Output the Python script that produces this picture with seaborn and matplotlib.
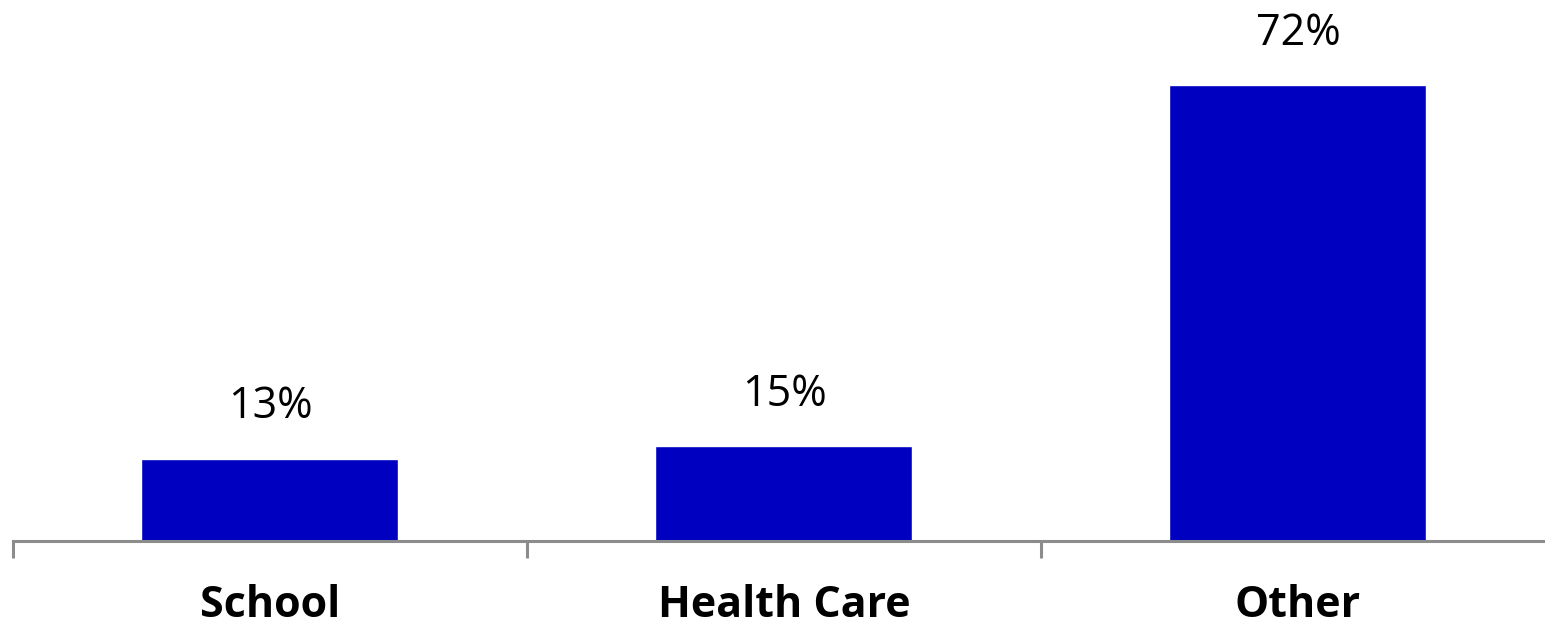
import matplotlib

matplotlib.use("Agg")
import matplotlib.pyplot as plt
import pandas as pd
import seaborn as sns

categories = ["School", "Health Care", "Other"]
shares = [13, 15, 72]
value_labels = ["13%", "15%", "72%"]

df = pd.DataFrame({"category": categories, "share": shares})

sns.set_theme(style="white")
plt.rcParams["font.family"] = ["Open Sans", "DejaVu Sans"]

fig = plt.figure(figsize=(15.45, 6.27), dpi=100)
# axes reaches a little past the right edge, as in the original
ax = fig.add_axes([13 / 1545, (627 - 541) / 627, (1555 - 13) / 1545, 541 / 627])

sns.barplot(data=df, x="category", y="share", color="#0000C0", saturation=1, width=0.5, ax=ax)

ax.set_xlim(-0.5, 2.5)
ax.set_ylim(0, 85.4)
ax.set_xlabel("")
ax.set_ylabel("")
ax.set_yticks([])

for side in ("top", "right", "left"):
    ax.spines[side].set_visible(False)
ax.spines["bottom"].set_color("#8c8c8c")
ax.spines["bottom"].set_linewidth(2.2)

ax.set_xticks([-0.5, 0.5, 1.5], minor=True)
ax.tick_params(axis="x", which="minor", bottom=True, length=12, width=2.2, color="#8c8c8c")
ax.tick_params(axis="x", which="major", bottom=False, pad=25, labelsize=31, labelcolor="black")
for lbl in ax.get_xticklabels():
    lbl.set_fontweight("bold")

for i, (val, txt) in enumerate(zip(shares, value_labels)):
    ax.annotate(txt, (i, val), xytext=(0, 29), textcoords="offset points",
                ha="center", va="baseline", fontsize=31, color="black")

fig.savefig("out.png", dpi=100)
plt.close(fig)
